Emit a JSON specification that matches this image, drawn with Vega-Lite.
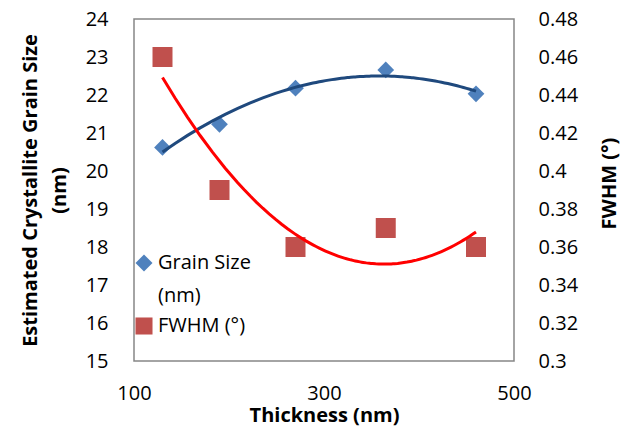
{
  "$schema": "https://vega.github.io/schema/vega-lite/v6.json",
  "width": 380,
  "height": 342,
  "autosize": {"type": "none"},
  "padding": {"left": 134, "top": 19, "right": 120, "bottom": 76},
  "background": "white",
  "config": {
    "font": "Open Sans",
    "view": {"stroke": "#868686", "strokeWidth": 1.5},
    "axis": {
      "grid": false,
      "domain": false,
      "ticks": false,
      "labelOverlap": false,
      "labelFlush": false,
      "labelFont": "Open Sans",
      "labelFontSize": 20,
      "labelColor": "black",
      "titleFont": "Open Sans",
      "titleFontSize": 20,
      "titleFontWeight": "bold",
      "titleColor": "black"
    },
    "legend": {
      "labelFont": "Open Sans",
      "labelFontSize": 20,
      "labelColor": "black",
      "labelLimit": 0,
      "symbolSize": 290,
      "symbolStrokeWidth": 0,
      "symbolOpacity": 1
    }
  },
  "data": {
    "values": [
      {"thickness": 130, "grain": 20.62, "fwhm": 0.46},
      {"thickness": 190, "grain": 21.23, "fwhm": 0.39},
      {"thickness": 270, "grain": 22.18, "fwhm": 0.36},
      {"thickness": 365, "grain": 22.66, "fwhm": 0.37},
      {"thickness": 460, "grain": 22.03, "fwhm": 0.36}
    ]
  },
  "encoding": {
    "x": {
      "field": "thickness",
      "type": "quantitative",
      "scale": {"domain": [100, 500], "nice": false},
      "axis": {"values": [100, 300, 500], "tickCount": 5, "title": "Thickness (nm)", "labelPadding": 22, "titlePadding": 2, "labelOverlap": false}
    }
  },
  "layer": [
    {
      "layer": [
        {
          "mark": {"type": "point", "filled": true, "size": 280, "opacity": 1},
          "encoding": {
            "y": {
              "field": "grain",
              "type": "quantitative",
              "scale": {"domain": [15, 24], "nice": false, "zero": false},
              "axis": {
                "values": [15, 16, 17, 18, 19, 20, 21, 22, 23, 24],
                "tickCount": 12,
                "labelOverlap": false,
                "labelFlush": false,
                "title": ["Estimated Crystallite Grain Size", "(nm)"],
                "titleLineHeight": 29,
                "labelPadding": 26,
                "titlePadding": 16
              }
            },
            "color": {
              "datum": "Grain Size (nm)",
              "scale": {"domain": ["Grain Size (nm)", "FWHM (°)"], "range": ["#4F81BD", "#C0504D"]},
              "legend": {
                "title": null,
                "orient": "none",
                "legendX": 0,
                "legendY": 234,
                "rowPadding": 10,
                "labelExpr": "datum.label == 'Grain Size (nm)' ? ['Grain Size', '(nm)'] : datum.label",
                "encode": {"labels": {"update": {"lineHeight": {"value": 33}}}}
              }
            },
            "shape": {
              "datum": "Grain Size (nm)",
              "scale": {"domain": ["Grain Size (nm)", "FWHM (°)"], "range": ["diamond", "square"]}
            }
          }
        },
        {
          "transform": [{"regression": "grain", "on": "thickness", "method": "poly", "order": 2, "extent": [130, 460]}],
          "mark": {"type": "line", "color": "#1F497D", "strokeWidth": 3},
          "encoding": {"y": {"field": "grain", "type": "quantitative"}}
        }
      ]
    },
    {
      "layer": [
        {
          "mark": {"type": "point", "filled": true, "size": 400, "opacity": 1},
          "encoding": {
            "y": {
              "field": "fwhm",
              "type": "quantitative",
              "scale": {"domain": [0.3, 0.48], "nice": false, "zero": false},
              "axis": {
                "orient": "right",
                "values": [0.3, 0.32, 0.34, 0.36, 0.38, 0.4, 0.42, 0.44, 0.46, 0.48],
                "tickCount": 12,
                "format": ".2~f",
                "labelOverlap": false,
                "labelFlush": false,
                "title": "FWHM (°)",
                "titleAngle": 270,
                "titleBaseline": "top",
                "titleY": 164,
                "labelPadding": 24,
                "titlePadding": 22
              }
            },
            "color": {"datum": "FWHM (°)"},
            "shape": {"datum": "FWHM (°)"}
          }
        },
        {
          "transform": [{"regression": "fwhm", "on": "thickness", "method": "poly", "order": 2, "extent": [130, 460]}],
          "mark": {"type": "line", "color": "#FF0000", "strokeWidth": 3},
          "encoding": {"y": {"field": "fwhm", "type": "quantitative"}}
        }
      ]
    }
  ],
  "resolve": {"scale": {"y": "independent"}}
}
